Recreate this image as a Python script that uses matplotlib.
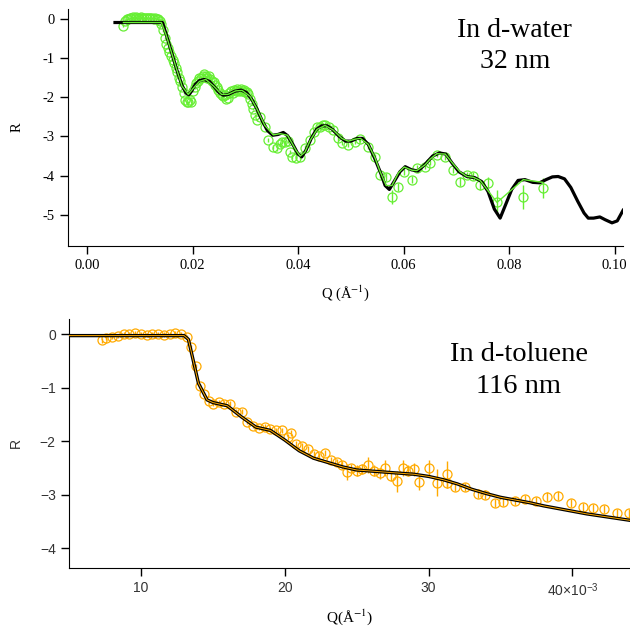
import numpy as np
import matplotlib
matplotlib.use("Agg")
import matplotlib.pyplot as plt

plt.rcParams['axes.unicode_minus'] = False
plt.rcParams['mathtext.fontset'] = 'stix'

# ---------------- top panel: d-water -----------------
fit_q_w = [0.0053, 0.0143, 0.0150, 0.0160, 0.0170, 0.0180, 0.0188, 0.0193, 0.0198, 0.0205,
           0.0213, 0.0222, 0.0232, 0.0242, 0.0250, 0.0258, 0.0268, 0.0280, 0.0292, 0.0302,
           0.0312, 0.0322, 0.0332, 0.0342, 0.0352, 0.0362, 0.0372, 0.0380, 0.0390, 0.0400,
           0.0407, 0.0415, 0.0425, 0.0435, 0.0445, 0.0455, 0.0465, 0.0478, 0.0490, 0.0500,
           0.0512, 0.0522, 0.0533, 0.0545, 0.0558, 0.0565, 0.0573, 0.0582, 0.0593, 0.0603,
           0.0615, 0.0627, 0.0640, 0.0655, 0.0668, 0.0680, 0.0692, 0.0705, 0.0720, 0.0735,
           0.0748, 0.0760, 0.0772, 0.0783, 0.0793, 0.0805, 0.0817, 0.0830, 0.0845, 0.0858,
           0.0870, 0.0882, 0.0893, 0.0905, 0.0917, 0.0930, 0.0942, 0.0950, 0.0960, 0.0972,
           0.0982, 0.0995, 0.1005, 0.1016]
fit_r_w = [-0.10, -0.10, -0.40, -0.85, -1.30, -1.70, -1.90, -1.94, -1.85, -1.68,
           -1.58, -1.55, -1.60, -1.75, -1.88, -1.95, -1.93, -1.85, -1.82, -1.88,
           -2.05, -2.30, -2.60, -2.85, -2.97, -2.95, -2.90, -2.98, -3.20, -3.45,
           -3.52, -3.35, -3.05, -2.82, -2.73, -2.73, -2.82, -3.00, -3.12, -3.12,
           -3.05, -3.05, -3.20, -3.55, -3.98, -4.25, -4.35, -4.15, -3.90, -3.77,
           -3.85, -3.88, -3.72, -3.50, -3.42, -3.45, -3.68, -3.90, -4.02, -4.05,
           -4.15, -4.40, -4.85, -5.08, -4.75, -4.35, -4.12, -4.10, -4.17, -4.18,
           -4.10, -4.03, -4.02, -4.08, -4.30, -4.65, -4.95, -5.08, -5.08, -5.05,
           -5.12, -5.20, -5.15, -4.88]

green_q = [0.0069, 0.0141, 0.0150, 0.0165, 0.0180, 0.0192, 0.0201, 0.0213, 0.0225, 0.0240,
           0.0255, 0.0267, 0.0282, 0.0294, 0.0309, 0.0322, 0.0337, 0.0353, 0.0366, 0.0380,
           0.0396, 0.0404, 0.0413, 0.0423, 0.0436, 0.0451, 0.0466, 0.0483, 0.0495, 0.0508,
           0.0518, 0.0533, 0.0546, 0.0555, 0.0567, 0.0578, 0.0590, 0.0601, 0.0616, 0.0625,
           0.0641, 0.0650, 0.0663, 0.0679, 0.0694, 0.0707, 0.0720, 0.0732, 0.0745, 0.0760,
           0.0777, 0.0827, 0.0864]
green_r = [-0.10, -0.10, -0.42, -1.08, -1.72, -1.93, -1.78, -1.60, -1.55, -1.72,
           -1.93, -1.93, -1.84, -1.83, -1.98, -2.30, -2.72, -2.96, -2.93, -2.97,
           -3.35, -3.50, -3.40, -3.10, -2.82, -2.72, -2.83, -3.05, -3.12, -3.07,
           -3.05, -3.20, -3.55, -3.88, -4.25, -4.25, -3.93, -3.78, -3.86, -3.87,
           -3.72, -3.58, -3.44, -3.45, -3.70, -3.90, -4.02, -4.04, -4.12, -4.38,
           -4.68, -4.10, -4.17]

data_q_w = [0.0069, 0.0072, 0.0075, 0.0078, 0.0081, 0.0084, 0.0087, 0.0090, 0.0093, 0.0096,
            0.0099, 0.0102, 0.0105, 0.0108, 0.0111, 0.0114, 0.0117, 0.0120, 0.0123, 0.0126,
            0.0129, 0.0132, 0.0135, 0.0138, 0.0141, 0.0144, 0.0147, 0.0150, 0.0153, 0.0156,
            0.0159, 0.0162, 0.0165, 0.0168, 0.0171, 0.0174, 0.0177, 0.0180, 0.0183, 0.0186,
            0.0189, 0.0192, 0.0195, 0.0198, 0.0201, 0.0204, 0.0207, 0.0210, 0.0213, 0.0216,
            0.0219, 0.0222, 0.0225, 0.0228, 0.0231, 0.0234, 0.0237, 0.0240, 0.0243, 0.0246,
            0.0249, 0.0252, 0.0255, 0.0258, 0.0261, 0.0264, 0.0267, 0.0270, 0.0273, 0.0276,
            0.0279, 0.0282, 0.0285, 0.0288, 0.0291, 0.0294, 0.0297, 0.0300, 0.0303, 0.0306,
            0.0309, 0.0312, 0.0315, 0.0318, 0.0322, 0.0328, 0.0337, 0.0343, 0.0353, 0.0360,
            0.0366, 0.0370, 0.0375, 0.0380, 0.0385, 0.0389, 0.0396, 0.0404, 0.0413, 0.0423,
            0.0430, 0.0436, 0.0442, 0.0447, 0.0451, 0.0458, 0.0466, 0.0475, 0.0483, 0.0495,
            0.0508, 0.0518, 0.0533, 0.0546, 0.0555, 0.0567, 0.0578, 0.0590, 0.0601, 0.0616,
            0.0625, 0.0641, 0.0650, 0.0663, 0.0679, 0.0694, 0.0707, 0.0720, 0.0732, 0.0745,
            0.0760, 0.0777, 0.0827, 0.0864]
data_r_w = [-0.18, -0.05, -0.02, 0.00, 0.02, 0.02, 0.03, 0.02, 0.03, 0.02,
            0.02, 0.03, 0.02, 0.01, 0.02, 0.02, 0.01, 0.02, 0.01, 0.00,
            0.01, 0.00, -0.02, -0.05, -0.15, -0.30, -0.50, -0.65, -0.75, -0.85,
            -0.95, -1.05, -1.12, -1.25, -1.35, -1.50, -1.60, -1.75, -1.90, -2.08,
            -2.12, -2.12, -2.08, -2.12, -1.85, -1.75, -1.65, -1.58, -1.52, -1.50,
            -1.45, -1.42, -1.47, -1.50, -1.47, -1.55, -1.60, -1.62, -1.70, -1.75,
            -1.82, -1.90, -1.95, -1.98, -1.95, -2.05, -2.02, -1.90, -1.85, -1.90,
            -1.83, -1.85, -1.80, -1.85, -1.78, -1.85, -1.82, -1.88, -1.86, -1.93,
            -2.05, -2.18, -2.30, -2.45, -2.58, -2.50, -2.75, -3.09, -3.27, -3.30,
            -3.20, -3.14, -3.14, -3.12, -3.40, -3.52, -3.55, -3.52, -3.29, -3.09,
            -2.90, -2.76, -2.75, -2.72, -2.70, -2.75, -2.83, -3.05, -3.17, -3.21,
            -3.14, -3.07, -3.26, -3.52, -3.98, -4.03, -4.54, -4.28, -3.90, -4.10,
            -3.80, -3.77, -3.67, -3.47, -3.52, -3.85, -4.15, -3.98, -4.00, -4.23,
            -4.18, -4.67, -4.54, -4.31]
err_w = [0.03] * 86 + [0.05, 0.05, 0.06, 0.06,
                       0.06, 0.06, 0.06, 0.06, 0.06, 0.06, 0.06, 0.06, 0.06, 0.06,
                       0.06, 0.06, 0.06, 0.06, 0.06, 0.06, 0.06, 0.06, 0.06, 0.06,
                       0.06, 0.06, 0.06, 0.06, 0.08, 0.10, 0.18, 0.10, 0.08, 0.08,
                       0.08, 0.06, 0.06, 0.06, 0.08, 0.08, 0.12, 0.08, 0.10, 0.14,
                       0.14, 0.30, 0.30, 0.25]

# ---------------- bottom panel: d-toluene (Q in 1e-3 A^-1) -----------------
fit_q_t = [5.0, 13.0, 13.3, 13.6, 14.0, 14.6, 15.0, 16.0, 17.0, 18.0,
           19.0, 20.0, 21.0, 22.0, 23.0, 24.0, 25.0, 26.0, 27.0, 28.0,
           29.0, 30.0, 31.0, 32.0, 33.0, 34.0, 35.0, 36.0, 37.0, 38.0,
           39.0, 40.0, 41.0, 42.0, 43.0, 44.0]
fit_r_t = [-0.03, -0.03, -0.10, -0.45, -0.92, -1.23, -1.28, -1.34, -1.55, -1.74,
           -1.80, -1.98, -2.18, -2.32, -2.40, -2.48, -2.54, -2.56, -2.58, -2.60,
           -2.62, -2.66, -2.72, -2.80, -2.90, -2.98, -3.05, -3.10, -3.15, -3.21,
           -3.26, -3.31, -3.36, -3.40, -3.44, -3.48]

data_q_t = [7.3, 7.6, 8.0, 8.4, 8.8, 9.2, 9.6, 10.0, 10.4, 10.8,
            11.2, 11.6, 12.0, 12.4, 12.8, 13.2, 13.5, 13.8, 14.1, 14.4,
            14.7, 15.0, 15.4, 15.8, 16.2, 16.6, 17.0, 17.4, 17.8, 18.2,
            18.6, 19.0, 19.4, 19.8, 20.2, 20.4, 20.8, 21.2, 21.6, 22.0,
            22.4, 22.8, 23.2, 23.6, 24.0, 24.3, 24.6, 25.0, 25.4, 25.8,
            26.2, 26.6, 27.0, 27.4, 27.8, 28.2, 28.6, 29.0, 29.3, 30.0,
            30.6, 31.3, 31.3, 31.8, 32.5, 33.4, 33.9, 34.6, 35.2, 36.0,
            36.7, 37.5, 38.2, 39.0, 39.9, 40.7, 41.4, 42.2, 43.1, 43.9]
data_r_t = [-0.12, -0.08, -0.05, -0.04, 0.00, 0.00, 0.02, 0.00, -0.02, 0.00,
            0.00, -0.01, 0.00, 0.02, 0.00, -0.05, -0.25, -0.60, -0.98, -1.12,
            -1.25, -1.30, -1.27, -1.30, -1.30, -1.45, -1.45, -1.65, -1.72, -1.75,
            -1.74, -1.78, -1.80, -1.80, -1.92, -1.85, -2.05, -2.10, -2.15, -2.25,
            -2.28, -2.22, -2.35, -2.40, -2.45, -2.58, -2.50, -2.55, -2.52, -2.45,
            -2.55, -2.60, -2.50, -2.65, -2.75, -2.50, -2.55, -2.53, -2.76, -2.50,
            -2.78, -2.62, -2.79, -2.86, -2.86, -2.98, -3.00, -3.16, -3.14, -3.12,
            -3.08, -3.12, -3.04, -3.02, -3.16, -3.23, -3.25, -3.27, -3.35, -3.35]
err_t = [0.04, 0.04, 0.04, 0.04, 0.04, 0.04, 0.04, 0.04, 0.04, 0.04,
         0.04, 0.04, 0.04, 0.04, 0.04, 0.04, 0.04, 0.04, 0.04, 0.04,
         0.04, 0.04, 0.04, 0.04, 0.04, 0.04, 0.04, 0.04, 0.04, 0.04,
         0.05, 0.05, 0.05, 0.05, 0.06, 0.06, 0.06, 0.06, 0.06, 0.06,
         0.06, 0.06, 0.06, 0.06, 0.08, 0.15, 0.08, 0.10, 0.10, 0.15,
         0.10, 0.10, 0.15, 0.10, 0.20, 0.15, 0.10, 0.12, 0.15, 0.15,
         0.25, 0.25, 0.08, 0.08, 0.08, 0.08, 0.08, 0.08, 0.08, 0.08,
         0.08, 0.08, 0.08, 0.08, 0.08, 0.08, 0.08, 0.08, 0.08, 0.08]

GREEN = '#66ee33'
ORANGE = '#ffaa00'

fig = plt.figure(figsize=(6.3, 6.26), dpi=100)

# ---- top
ax1 = fig.add_axes([0.108, 0.607, 0.881, 0.379])
ax1.errorbar(data_q_w, data_r_w, yerr=err_w, fmt='o', mfc='none', mec=GREEN,
             ecolor=GREEN, ms=6.5, mew=0.9, elinewidth=1, capsize=0, zorder=2)
ax1.plot(fit_q_w, fit_r_w, color='black', lw=2.3, zorder=3)
ax1.plot(green_q, green_r, color=GREEN, lw=1.0, zorder=4)
ax1.set_xlim(-0.0036, 0.1016)
ax1.set_ylim(-5.79, 0.25)
ax1.set_xticks([0.00, 0.02, 0.04, 0.06, 0.08, 0.10])
ax1.set_xticklabels(['0.00', '0.02', '0.04', '0.06', '0.08', '0.10'])
ax1.set_yticks([0, -1, -2, -3, -4, -5])
ax1.set_yticklabels(['0', '-1', '-2', '-3', '-4', '-5'])
for lab in ax1.get_xticklabels() + ax1.get_yticklabels():
    lab.set_family('Liberation Serif')
    lab.set_fontsize(10.5)
ax1.set_xlabel('Q (Å$^{-1}$)', family='Liberation Serif', fontsize=10.5, labelpad=8)
ax1.set_ylabel('R', family='Liberation Serif', fontsize=10.5, labelpad=14)
ax1.text(0.805, 0.962, 'In d-water\n32 nm', transform=ax1.transAxes, ha='center',
         va='top', family='Liberation Serif', fontsize=20, linespacing=1.35)

# ---- bottom
ax2 = fig.add_axes([0.1095, 0.0927, 0.8905, 0.3977])
ax2.errorbar(data_q_t, data_r_t, yerr=err_t, fmt='o', mfc='none', mec=ORANGE,
             ecolor=ORANGE, ms=6.5, mew=0.9, elinewidth=1, capsize=0, zorder=2)
ax2.plot(fit_q_t, fit_r_t, color='black', lw=2.4, zorder=3)
ax2.plot(fit_q_t, fit_r_t, color=ORANGE, lw=0.7, zorder=4)
ax2.set_xlim(5.0, 44.0)
ax2.set_ylim(-4.37, 0.28)
ax2.set_xticks([10, 20, 30, 40])
ax2.set_xticklabels(['10', '20', '30', '40×10$^{\\mathregular{-3}}$'])
ax2.set_yticks([0, -1, -2, -3, -4])
ax2.set_yticklabels(['0', '\u22121', '\u22122', '\u22123', '\u22124'])
for lab in ax2.get_xticklabels() + ax2.get_yticklabels():
    lab.set_family('Liberation Sans')
    lab.set_fontsize(10)
    lab.set_color('#333333')
ax2.set_xlabel('Q(Å$^{-1}$)', family='Liberation Serif', fontsize=11, labelpad=6)
ax2.set_ylabel('R', family='Liberation Sans', fontsize=10, labelpad=12, color='#333333')
ax2.text(0.802, 0.906, 'In d-toluene\n116 nm', transform=ax2.transAxes, ha='center',
         va='top', family='Liberation Serif', fontsize=20.5, linespacing=1.35)

for ax in (ax1, ax2):
    ax.spines['top'].set_visible(False)
    ax.spines['right'].set_visible(False)
    ax.tick_params(direction='out', length=6, width=1)

fig.savefig('out.png', dpi=100)
